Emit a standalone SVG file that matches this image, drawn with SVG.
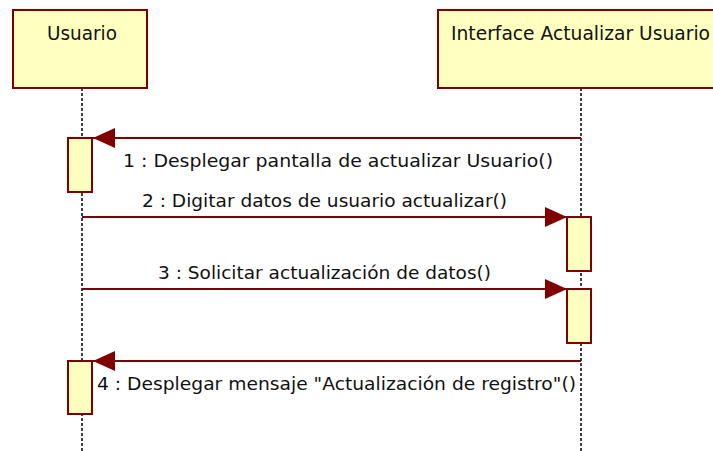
<svg xmlns="http://www.w3.org/2000/svg" width="713" height="451" viewBox="0 0 713 451">
<defs>
<style>
.obj{fill:#ffffc0;stroke:#800000;stroke-width:2}
.act{fill:#ffffc0;stroke:#800000;stroke-width:2}
.life{stroke:#000;stroke-width:1.5;stroke-dasharray:3,2;fill:none}
.msg{stroke:#800000;stroke-width:2;fill:none}
.t{font-family:"DejaVu Sans","Liberation Sans",sans-serif;font-size:18.5px;fill:#111}
.h{font-family:"DejaVu Sans","Liberation Sans",sans-serif;font-size:19.5px;fill:#111}
</style>
<marker id="ah" markerWidth="22" markerHeight="20" refX="22" refY="10" orient="auto" markerUnits="userSpaceOnUse">
<path d="M0,0 L22,10 L0,20 Z" fill="#800000"/>
</marker>
</defs>
<rect width="713" height="451" fill="#fff"/>
<g id="lifelines">
<line class="life" x1="82" y1="88" x2="82" y2="451"/>
<line class="life" x1="581" y1="88" x2="581" y2="451"/>
</g>
<g id="usuario">
<rect class="obj" x="13" y="10" width="134" height="78"/>
<text class="h" x="47" y="40" textLength="70" lengthAdjust="spacingAndGlyphs">Usuario</text>
</g>
<g id="interface">
<rect class="obj" x="438" y="10" width="285" height="78"/>
<text class="h" x="451" y="40" textLength="259" lengthAdjust="spacingAndGlyphs">Interface Actualizar Usuario</text>
</g>
<g id="activations">
<rect class="act" x="68" y="138" width="24" height="54"/>
<rect class="act" x="567" y="217" width="24" height="54"/>
<rect class="act" x="567" y="289" width="24" height="54"/>
<rect class="act" x="68" y="361" width="24" height="53"/>
</g>
<g id="connectors">
<line class="msg" x1="581" y1="138" x2="93" y2="138" marker-end="url(#ah)"/>
<line class="msg" x1="82" y1="217" x2="567" y2="217" marker-end="url(#ah)"/>
<line class="msg" x1="82" y1="289" x2="567" y2="289" marker-end="url(#ah)"/>
<line class="msg" x1="581" y1="361" x2="93" y2="361" marker-end="url(#ah)"/>
</g>
<g id="labels">
<text class="t" x="123" y="167" textLength="430" lengthAdjust="spacingAndGlyphs">1 : Desplegar pantalla de actualizar Usuario()</text>
<text class="t" x="142" y="207" textLength="365" lengthAdjust="spacingAndGlyphs">2 : Digitar datos de usuario actualizar()</text>
<text class="t" x="158" y="279" textLength="333" lengthAdjust="spacingAndGlyphs">3 : Solicitar actualización de datos()</text>
<text class="t" x="97" y="390" textLength="479" lengthAdjust="spacingAndGlyphs">4 : Desplegar mensaje "Actualización de registro"()</text>
</g>
</svg>
